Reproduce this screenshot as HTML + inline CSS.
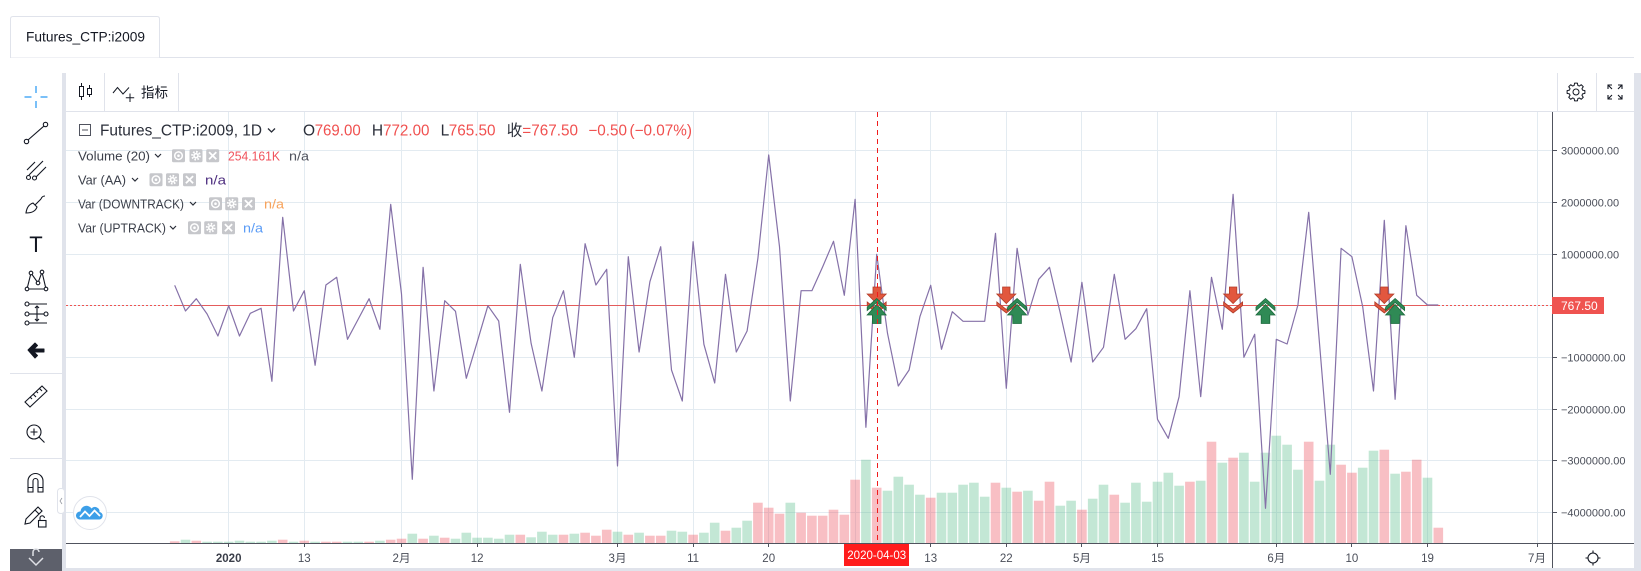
<!DOCTYPE html>
<html><head><meta charset="utf-8">
<style>
html,body{margin:0;padding:0;background:#fff;width:1641px;height:571px;overflow:hidden;}
svg{display:block;}
text{font-family:"Liberation Sans","Noto Sans CJK SC",sans-serif;}
</style></head><body>
<svg width="1641" height="571" viewBox="0 0 1641 571" xmlns="http://www.w3.org/2000/svg">
<defs>
  <g id="eye"><rect x="-6.5" y="-6.5" width="13" height="13" rx="1.5" fill="#c6c7cb"/><circle r="3.8" fill="none" stroke="#fff" stroke-width="1.5"/><circle r="1.3" fill="#fff"/></g>
  <g id="gear"><rect x="-6.5" y="-6.5" width="13" height="13" rx="1.5" fill="#c6c7cb"/><circle r="3.9" fill="none" stroke="#fff" stroke-width="2" stroke-dasharray="1.6 1.45"/><circle r="2.8" fill="#fff"/><circle r="1.2" fill="#c6c7cb"/></g>
  <g id="xx"><rect x="-6.5" y="-6.5" width="13" height="13" rx="1.5" fill="#c6c7cb"/><path d="M-3.6 -3.6 L3.6 3.6 M3.6 -3.6 L-3.6 3.6" stroke="#fff" stroke-width="1.8"/></g>
  <path id="dn" d="M-3.7 287 H3.7 V294 H9.5 L0 303.5 L-9.5 294 H-3.7 Z M-9.5 302 L0 309.5 L9.5 302 L9.5 305.5 L0 313 L-9.5 305.5 Z" fill="#e2573e" stroke="#b23d2a" stroke-width="0.8"/>
  <path id="up" d="M-9.5 307 L0 298.5 L9.5 307 L9.5 310.5 L0 302.5 L-9.5 310.5 Z M0 304.5 L9.5 315 H4.3 V323.5 H-4.3 V315 H-9.5 Z" fill="#2f8a55" stroke="#1d6a3e" stroke-width="0.8"/>
</defs>

<!-- background -->
<rect width="1641" height="571" fill="#fff"/>
<!-- tab -->
<line x1="10" y1="57.5" x2="1634" y2="57.5" stroke="#e0e3eb"/>
<path d="M10.5 57.5 V19 Q10.5 16.5 13 16.5 H157 Q159.5 16.5 159.5 19 V57.5" fill="#fff" stroke="#e0e3eb"/>
<text x="26" y="41.5" font-size="14" fill="#131722" textLength="119" lengthAdjust="spacingAndGlyphs">Futures_CTP:i2009</text>

<!-- frame -->
<rect x="62" y="73" width="4" height="498" fill="#e0e3eb"/>
<rect x="1634" y="73" width="7" height="498" fill="#e0e3eb"/>
<rect x="62" y="568" width="1579" height="3" fill="#e0e3eb"/>

<!-- top toolbar -->
<line x1="66" y1="111.5" x2="1634" y2="111.5" stroke="#e0e3eb"/>
<line x1="104.5" y1="73" x2="104.5" y2="111" stroke="#e0e3eb"/>
<line x1="178.5" y1="73" x2="178.5" y2="111" stroke="#e0e3eb"/>
<line x1="1557.5" y1="73" x2="1557.5" y2="111" stroke="#e0e3eb"/>
<line x1="1596.5" y1="73" x2="1596.5" y2="111" stroke="#e0e3eb"/>
<g stroke="#131722" fill="none" stroke-width="1">
  <line x1="81.5" y1="83" x2="81.5" y2="100"/><rect x="79.5" y="86.5" width="4" height="10" fill="#fff"/>
  <line x1="89.5" y1="85" x2="89.5" y2="97"/><rect x="87.5" y="88.5" width="4" height="6" fill="#fff"/>
  <path d="M113 93 L117.5 87.5 L123 94 L129 87.5"/>
  <path d="M130 93.5 V102 M125.8 97.8 H134.2"/>
</g>
<text x="141" y="97.5" font-size="14" fill="#131722" textLength="27" lengthAdjust="spacingAndGlyphs">指标</text>
<g transform="translate(1576,92)" fill="none" stroke="#131722" stroke-width="1" stroke-linejoin="round">
  <polygon points="6.53,-1.88 8.89,-1.40 8.89,1.40 6.53,1.88 5.95,3.30 7.28,5.29 5.29,7.28 3.30,5.95 1.88,6.53 1.40,8.89 -1.40,8.89 -1.88,6.53 -3.30,5.95 -5.29,7.28 -7.28,5.29 -5.95,3.30 -6.53,1.88 -8.89,1.40 -8.89,-1.40 -6.53,-1.88 -5.95,-3.30 -7.28,-5.29 -5.29,-7.28 -3.30,-5.95 -1.88,-6.53 -1.40,-8.89 1.40,-8.89 1.88,-6.53 3.30,-5.95 5.29,-7.28 7.28,-5.29 5.95,-3.30"/>
  <circle r="3"/>
</g>
<g stroke="#131722" fill="none" stroke-width="1.1">
  <path d="M1608 89 V85 H1612 M1608 85 L1612 89"/>
  <path d="M1618 85 H1622 V89 M1622 85 L1618 89"/>
  <path d="M1608 95 V99 H1612 M1608 99 L1612 95"/>
  <path d="M1618 99 H1622 V95 M1622 99 L1618 95"/>
</g>

<!-- left toolbar -->
<g stroke="#2196f3" stroke-width="1.2">
  <line x1="36" y1="86" x2="36" y2="93"/><line x1="36" y1="101" x2="36" y2="108"/>
  <line x1="24.5" y1="97" x2="31.5" y2="97"/><line x1="40.5" y1="97" x2="47.5" y2="97"/>
</g>
<g stroke="#131722" fill="none" stroke-width="1.1">
  <line x1="28" y1="140" x2="44" y2="126"/><circle cx="26.5" cy="141.5" r="2.2"/><circle cx="45.5" cy="124.5" r="2.2"/>
  <path d="M27 170 L35 162 M29 175 L43 161 M36 177 L46 167"/><circle cx="28.5" cy="177.5" r="2"/><circle cx="34.5" cy="178" r="2"/>
  <path d="M26 213 Q27 205 33 203 L37 207 Q35 213 26 213 Z M35 205 L41 199 M41 199 Q42 196 45 196"/>
  <path d="M27 289 L31 273 L38 283 L42 272 L46 289 M27 289 L46 289"/>
  <circle cx="27" cy="289" r="1.8" fill="#fff"/><circle cx="31" cy="273" r="1.8" fill="#fff"/><circle cx="38" cy="283" r="1.8" fill="#fff"/><circle cx="42" cy="272" r="1.8" fill="#fff"/><circle cx="46" cy="289" r="1.8" fill="#fff"/>
  <circle cx="27" cy="304" r="2"/><line x1="29" y1="304" x2="47" y2="304"/>
  <circle cx="27" cy="314" r="2"/><line x1="29" y1="314" x2="44" y2="314"/><circle cx="46" cy="314" r="2"/>
  <circle cx="27" cy="323" r="2"/><line x1="29" y1="323" x2="47" y2="323"/>
  <path d="M37 306 V321 M35 308 L37 306 L39 308 M35 319 L37 321 L39 319"/>
  <path d="M25 402 L42 386 L47 391 L30 407 Z M30 397 L32 399 M33 394 L36 397 M36 391 L38 393 M39 388 L42 391"/>
  <circle cx="34" cy="432" r="7"/><line x1="39" y1="437" x2="44.5" y2="442.5"/><path d="M34 428.5 V435.5 M30.5 432 H37.5"/>
  <path d="M28 492 V481 A7.5 7.5 0 0 1 43 481 V492 H38 V481 A2.5 2.5 0 0 0 33 481 V492 Z M28 487.5 H33 M38 487.5 H43"/>
  <path d="M26 519 L38 507 L42 511 L30 523 L25 524 Z M35 510 L39 514"/>
  <rect x="38.5" y="520.5" width="7.5" height="6.5"/><path d="M40 520.5 V518 A2.2 2.2 0 0 1 44.4 518"/>
</g>
<text x="36" y="252" text-anchor="middle" font-family="Liberation Serif, serif" font-size="22" fill="#131722">T</text>
<polygon points="28,350 35,343 37.5,345.5 34,349 44,349 44,352 34,352 37.5,355.5 35,358" fill="#131722" stroke="#131722" stroke-width="1" stroke-linejoin="round"/>
<line x1="10" y1="373.5" x2="62" y2="373.5" stroke="#e0e3eb"/>
<line x1="10" y1="458.5" x2="62" y2="458.5" stroke="#e0e3eb"/>
<rect x="10" y="549" width="52" height="22" fill="#5d606b"/>
<path d="M29 558 L36 565 L43 558 M33 556 V552 A3 3 0 0 1 39 552" stroke="#dfe1e6" stroke-width="1.5" fill="none"/>
<rect x="57.5" y="488.5" width="7" height="25" rx="3" fill="#fff" stroke="#e0e3eb"/>
<path d="M62 498 L60 501 L62 504" stroke="#9598a1" fill="none" stroke-width="0.8"/>

<!-- grid -->
<g stroke="#e3ebf1" stroke-width="1">
  <line x1="228.5" y1="112" x2="228.5" y2="543"/><line x1="304.5" y1="112" x2="304.5" y2="543"/>
  <line x1="401.5" y1="112" x2="401.5" y2="543"/><line x1="477.5" y1="112" x2="477.5" y2="543"/>
  <line x1="617.5" y1="112" x2="617.5" y2="543"/><line x1="693.5" y1="112" x2="693.5" y2="543"/>
  <line x1="768.5" y1="112" x2="768.5" y2="543"/><line x1="855.5" y1="112" x2="855.5" y2="543"/>
  <line x1="930.5" y1="112" x2="930.5" y2="543"/><line x1="1006.5" y1="112" x2="1006.5" y2="543"/>
  <line x1="1081.5" y1="112" x2="1081.5" y2="543"/><line x1="1157.5" y1="112" x2="1157.5" y2="543"/>
  <line x1="1276.5" y1="112" x2="1276.5" y2="543"/><line x1="1351.5" y1="112" x2="1351.5" y2="543"/>
  <line x1="1427.5" y1="112" x2="1427.5" y2="543"/><line x1="1537.5" y1="112" x2="1537.5" y2="543"/>
  <line x1="66" y1="150.5" x2="1552" y2="150.5"/><line x1="66" y1="202.5" x2="1552" y2="202.5"/>
  <line x1="66" y1="254.5" x2="1552" y2="254.5"/><line x1="66" y1="305.5" x2="1552" y2="305.5"/>
  <line x1="66" y1="357.5" x2="1552" y2="357.5"/><line x1="66" y1="409.5" x2="1552" y2="409.5"/>
  <line x1="66" y1="460.5" x2="1552" y2="460.5"/><line x1="66" y1="512.5" x2="1552" y2="512.5"/>
</g>

<!-- volume bars pink -->
<g fill="#eb4d5c" fill-opacity="0.36">
<rect x="169.9" y="541.3" width="9.6" height="1.7"/><rect x="191.5" y="540.7" width="9.6" height="2.3"/>
<rect x="277.9" y="539.7" width="9.6" height="3.3"/><rect x="299.5" y="540.7" width="9.6" height="2.3"/>
<rect x="321.1" y="541.7" width="9.6" height="1.3"/><rect x="331.9" y="541.7" width="9.6" height="1.3"/>
<rect x="364.3" y="541.7" width="9.6" height="1.3"/><rect x="385.9" y="539.7" width="9.6" height="3.3"/>
<rect x="396.7" y="538.7" width="9.6" height="4.3"/><rect x="418.3" y="538.7" width="9.6" height="4.3"/>
<rect x="439.9" y="537.7" width="9.6" height="5.3"/><rect x="515.5" y="534.7" width="9.6" height="8.3"/>
<rect x="558.7" y="534.7" width="9.6" height="8.3"/><rect x="580.3" y="532.7" width="9.6" height="10.3"/>
<rect x="591.1" y="535.7" width="9.6" height="7.3"/><rect x="601.9" y="529.7" width="9.6" height="13.3"/>
<rect x="623.5" y="534.7" width="9.6" height="8.3"/><rect x="645.1" y="535.7" width="9.6" height="7.3"/>
<rect x="655.9" y="535.7" width="9.6" height="7.3"/><rect x="688.3" y="534.7" width="9.6" height="8.3"/>
<rect x="720.7" y="530.7" width="9.6" height="12.3"/><rect x="753.1" y="502.7" width="9.6" height="40.3"/>
<rect x="763.9" y="507.7" width="9.6" height="35.3"/><rect x="774.7" y="513.7" width="9.6" height="29.3"/>
<rect x="796.3" y="512.7" width="9.6" height="30.3"/><rect x="807.1" y="515.7" width="9.6" height="27.3"/>
<rect x="817.9" y="515.7" width="9.6" height="27.3"/><rect x="828.7" y="509.7" width="9.6" height="33.3"/>
<rect x="839.5" y="514.7" width="9.6" height="28.3"/><rect x="850.3" y="479.7" width="9.6" height="63.3"/>
<rect x="871.9" y="487.7" width="9.6" height="55.3"/><rect x="925.9" y="497.7" width="9.6" height="45.3"/>
<rect x="990.7" y="482.7" width="9.6" height="60.3"/><rect x="1012.3" y="491.7" width="9.6" height="51.3"/>
<rect x="1033.9" y="500.7" width="9.6" height="42.3"/><rect x="1044.7" y="481.7" width="9.6" height="61.3"/>
<rect x="1077.1" y="509.7" width="9.6" height="33.3"/><rect x="1109.5" y="494.7" width="9.6" height="48.3"/>
<rect x="1185.1" y="481.7" width="9.6" height="61.3"/><rect x="1206.7" y="441.7" width="9.6" height="101.3"/>
<rect x="1228.3" y="457.7" width="9.6" height="85.3"/><rect x="1303.9" y="441.7" width="9.6" height="101.3"/>
<rect x="1336.3" y="464.7" width="9.6" height="78.3"/><rect x="1347.1" y="472.7" width="9.6" height="70.3"/>
<rect x="1379.5" y="449.7" width="9.6" height="93.3"/><rect x="1401.1" y="471.7" width="9.6" height="71.3"/>
<rect x="1411.9" y="459.7" width="9.6" height="83.3"/><rect x="1433.5" y="527.7" width="9.6" height="15.3"/>
</g>
<!-- volume bars green -->
<g fill="#53b987" fill-opacity="0.35">
<rect x="180.7" y="539.7" width="9.6" height="3.3"/><rect x="202.3" y="541.7" width="9.6" height="1.3"/>
<rect x="213.1" y="541.7" width="9.6" height="1.3"/><rect x="223.9" y="541.7" width="9.6" height="1.3"/>
<rect x="234.7" y="540.7" width="9.6" height="2.3"/><rect x="245.5" y="541.7" width="9.6" height="1.3"/>
<rect x="256.3" y="541.7" width="9.6" height="1.3"/><rect x="267.1" y="540.7" width="9.6" height="2.3"/>
<rect x="288.7" y="541.7" width="9.6" height="1.3"/><rect x="310.3" y="541.7" width="9.6" height="1.3"/>
<rect x="342.7" y="541.7" width="9.6" height="1.3"/><rect x="353.5" y="541.7" width="9.6" height="1.3"/>
<rect x="375.1" y="540.7" width="9.6" height="2.3"/><rect x="407.5" y="533.7" width="9.6" height="9.3"/>
<rect x="429.1" y="535.7" width="9.6" height="7.3"/><rect x="450.7" y="538.7" width="9.6" height="4.3"/>
<rect x="461.5" y="532.7" width="9.6" height="10.3"/><rect x="472.3" y="537.7" width="9.6" height="5.3"/>
<rect x="483.1" y="537.7" width="9.6" height="5.3"/><rect x="493.9" y="538.7" width="9.6" height="4.3"/>
<rect x="504.7" y="534.7" width="9.6" height="8.3"/><rect x="526.3" y="537.3" width="9.6" height="5.7"/>
<rect x="537.1" y="531.7" width="9.6" height="11.3"/><rect x="547.9" y="534.7" width="9.6" height="8.3"/>
<rect x="569.5" y="533.7" width="9.6" height="9.3"/><rect x="612.7" y="531.7" width="9.6" height="11.3"/>
<rect x="634.3" y="532.7" width="9.6" height="10.3"/><rect x="666.7" y="530.7" width="9.6" height="12.3"/>
<rect x="677.5" y="531.7" width="9.6" height="11.3"/><rect x="699.1" y="532.7" width="9.6" height="10.3"/>
<rect x="709.9" y="522.7" width="9.6" height="20.3"/><rect x="731.5" y="527.7" width="9.6" height="15.3"/>
<rect x="742.3" y="520.7" width="9.6" height="22.3"/><rect x="785.5" y="502.7" width="9.6" height="40.3"/>
<rect x="861.1" y="459.7" width="9.6" height="83.3"/><rect x="882.7" y="490.7" width="9.6" height="52.3"/>
<rect x="893.5" y="476.7" width="9.6" height="66.3"/><rect x="904.3" y="484.7" width="9.6" height="58.3"/>
<rect x="915.1" y="494.7" width="9.6" height="48.3"/><rect x="936.7" y="492.7" width="9.6" height="50.3"/>
<rect x="947.5" y="492.7" width="9.6" height="50.3"/><rect x="958.3" y="484.7" width="9.6" height="58.3"/>
<rect x="969.1" y="482.7" width="9.6" height="60.3"/><rect x="979.9" y="496.7" width="9.6" height="46.3"/>
<rect x="1001.5" y="487.7" width="9.6" height="55.3"/><rect x="1023.1" y="490.7" width="9.6" height="52.3"/>
<rect x="1055.5" y="505.7" width="9.6" height="37.3"/><rect x="1066.3" y="500.7" width="9.6" height="42.3"/>
<rect x="1087.9" y="498.7" width="9.6" height="44.3"/><rect x="1098.7" y="484.7" width="9.6" height="58.3"/>
<rect x="1120.3" y="502.7" width="9.6" height="40.3"/><rect x="1131.1" y="482.7" width="9.6" height="60.3"/>
<rect x="1141.9" y="501.7" width="9.6" height="41.3"/><rect x="1152.7" y="481.7" width="9.6" height="61.3"/>
<rect x="1163.5" y="472.7" width="9.6" height="70.3"/><rect x="1174.3" y="485.7" width="9.6" height="57.3"/>
<rect x="1195.9" y="480.7" width="9.6" height="62.3"/><rect x="1217.5" y="462.7" width="9.6" height="80.3"/>
<rect x="1239.1" y="452.7" width="9.6" height="90.3"/><rect x="1249.9" y="481.7" width="9.6" height="61.3"/>
<rect x="1260.7" y="452.7" width="9.6" height="90.3"/><rect x="1271.5" y="435.7" width="9.6" height="107.3"/>
<rect x="1282.3" y="444.7" width="9.6" height="98.3"/><rect x="1293.1" y="469.7" width="9.6" height="73.3"/>
<rect x="1314.7" y="480.7" width="9.6" height="62.3"/><rect x="1325.5" y="444.7" width="9.6" height="98.3"/>
<rect x="1357.9" y="467.7" width="9.6" height="75.3"/><rect x="1368.7" y="450.7" width="9.6" height="92.3"/>
<rect x="1390.3" y="473.7" width="9.6" height="69.3"/><rect x="1422.7" y="477.7" width="9.6" height="65.3"/>
</g>

<!-- zero / price lines -->
<line x1="66" y1="305.5" x2="1552" y2="305.5" stroke="#ef5350" stroke-dasharray="2 2"/>
<line x1="174.7" y1="305.5" x2="1438.3" y2="305.5" stroke="#e45c5c" stroke-width="1"/>

<!-- AA line -->
<polyline fill="none" stroke="#8571a8" stroke-width="1.2" stroke-linejoin="round" points="174.7,285.3 185.5,311 196.3,298.7 207.1,314 217.9,336 228.7,305.7 239.5,336 250.3,313.3 261.1,308.3 271.9,381.3 282.7,217.3 293.5,311 304.3,290.7 315.1,365.3 325.9,285 336.7,277.3 347.5,339.3 358.3,319 369.1,298.7 379.9,329.3 390.7,204.3 401.5,294 412.3,479.3 423.1,267.3 433.9,391 444.7,300.7 455.5,311.3 466.3,378.3 477.1,342.3 487.9,305.7 498.7,321 509.5,412.3 520.3,264.3 531.1,343.3 541.9,391 552.7,317.7 563.5,290.7 574.3,357.3 585.1,243.7 595.9,285 606.7,269.3 617.5,466 628.3,256.7 639.1,352 649.9,281.7 660.7,246.7 671.5,370 682.3,401 693.1,241.7 703.9,344.3 714.7,383 725.5,274.3 736.3,352 747.1,331 757.9,258.3 768.7,155 779.5,246.7 790.3,401 801.1,290.7 811.9,290.7 822.7,266.7 833.5,241.3 844.3,295.3 855.1,199.3 865.9,427.3 876.7,254.3 887.5,333.3 898.3,386 909.1,370 919.9,316.7 930.7,285.3 941.5,349.3 952.3,311.7 963.1,321.3 973.9,321.3 984.7,321.3 995.5,233.3 1006.3,388.3 1017.1,248.3 1027.9,315 1038.7,279.3 1049.5,267.3 1060.3,313.3 1071.1,362 1081.9,282.3 1092.7,362 1103.5,347.3 1114.3,274.3 1125.1,339.3 1135.9,328.7 1146.7,308.7 1157.5,419.3 1168.3,438.3 1179.1,396.7 1189.9,290.7 1200.7,396.7 1211.5,277.3 1222.3,329.3 1233.1,194.3 1243.9,357.3 1254.7,334.3 1265.5,508.3 1276.3,339.3 1287.1,344 1297.9,305 1308.7,212.3 1319.5,343.3 1330.3,474.3 1341.1,248.3 1351.9,256.7 1362.7,306.7 1373.5,391 1384.3,220.3 1395.1,399.3 1405.9,225.7 1416.7,295.3 1427.5,305 1438.3,305"/>

<!-- markers -->
<use href="#dn" x="876.7"/>
<use href="#dn" x="1006.3"/>
<use href="#dn" x="1233.1"/>
<use href="#dn" x="1384.3"/>
<use href="#up" x="876.7"/>
<use href="#up" x="1017.1"/>
<use href="#up" x="1265.5"/>
<use href="#up" x="1395.1"/>

<!-- crosshair -->
<line x1="877.5" y1="112" x2="877.5" y2="543" stroke="#f01c1c" stroke-dasharray="5 4"/>

<!-- axes -->
<line x1="66" y1="543.5" x2="1634" y2="543.5" stroke="#50535e"/>
<line x1="1552.5" y1="112" x2="1552.5" y2="568" stroke="#50535e"/>
<g stroke="#50535e">
  <line x1="1552" y1="150.5" x2="1557" y2="150.5"/><line x1="1552" y1="202.5" x2="1557" y2="202.5"/>
  <line x1="1552" y1="254.5" x2="1557" y2="254.5"/><line x1="1552" y1="357.5" x2="1557" y2="357.5"/>
  <line x1="1552" y1="409.5" x2="1557" y2="409.5"/><line x1="1552" y1="460.5" x2="1557" y2="460.5"/>
  <line x1="1552" y1="512.5" x2="1557" y2="512.5"/>
  <line x1="228.5" y1="543" x2="228.5" y2="547"/><line x1="304.5" y1="543" x2="304.5" y2="547"/>
  <line x1="401.5" y1="543" x2="401.5" y2="547"/><line x1="477.5" y1="543" x2="477.5" y2="547"/>
  <line x1="617.5" y1="543" x2="617.5" y2="547"/><line x1="693.5" y1="543" x2="693.5" y2="547"/>
  <line x1="768.5" y1="543" x2="768.5" y2="547"/><line x1="930.5" y1="543" x2="930.5" y2="547"/>
  <line x1="1006.5" y1="543" x2="1006.5" y2="547"/><line x1="1081.5" y1="543" x2="1081.5" y2="547"/>
  <line x1="1157.5" y1="543" x2="1157.5" y2="547"/><line x1="1276.5" y1="543" x2="1276.5" y2="547"/>
  <line x1="1351.5" y1="543" x2="1351.5" y2="547"/><line x1="1427.5" y1="543" x2="1427.5" y2="547"/>
  <line x1="1537.5" y1="543" x2="1537.5" y2="547"/>
</g>
<g font-size="11" fill="#4a4e59">
  <text x="1561" y="154.5">3000000.00</text>
  <text x="1561" y="206.5">2000000.00</text>
  <text x="1561" y="258.5">1000000.00</text>
  <text x="1561" y="361.5">−1000000.00</text>
  <text x="1561" y="413.5">−2000000.00</text>
  <text x="1561" y="464.5">−3000000.00</text>
  <text x="1561" y="516.5">−4000000.00</text>
</g>
<g font-size="11.5" fill="#4a4e59" text-anchor="middle">
  <text x="228.7" y="562" font-weight="bold" fill="#3b3f4a">2020</text>
  <text x="304.3" y="562">13</text>
  <text x="401.5" y="562">2月</text>
  <text x="477.1" y="562">12</text>
  <text x="617.5" y="562">3月</text>
  <text x="693.1" y="562">11</text>
  <text x="768.7" y="562">20</text>
  <text x="930.7" y="562">13</text>
  <text x="1006.3" y="562">22</text>
  <text x="1081.9" y="562">5月</text>
  <text x="1157.5" y="562">15</text>
  <text x="1276.3" y="562">6月</text>
  <text x="1351.9" y="562">10</text>
  <text x="1427.5" y="562">19</text>
  <text x="1537" y="562">7月</text>
</g>
<!-- price label -->
<rect x="1552" y="297" width="52" height="17" fill="#ef5350"/>
<text x="1561" y="310" font-size="12" fill="#fff">767.50</text>
<!-- time crosshair label -->
<rect x="844" y="544" width="65" height="22" fill="#ff1c1c"/>
<text x="876.7" y="559" font-size="11.5" fill="#fff" text-anchor="middle">2020-04-03</text>
<!-- bottom right settings -->
<g transform="translate(1593,558)" stroke="#131722" fill="none" stroke-width="1.1">
  <circle r="5"/><path d="M0 -7.5 V-5 M0 5 V7.5 M-7.5 0 H-5 M5 0 H7.5"/>
</g>

<!-- legend -->
<rect x="79.5" y="124.5" width="11" height="11" fill="none" stroke="#50535e"/>
<line x1="82" y1="130" x2="88" y2="130" stroke="#50535e"/>
<g font-size="15.5">
  <text x="100" y="135.5" fill="#2a2e39" textLength="162" lengthAdjust="spacingAndGlyphs">Futures_CTP:i2009, 1D</text>
  <text x="303" y="135.5" fill="#2a2e39">O</text>
  <text x="314.7" y="135.5" fill="#f0504f" textLength="46" lengthAdjust="spacingAndGlyphs">769.00</text>
  <text x="371.9" y="135.5" fill="#2a2e39">H</text>
  <text x="383" y="135.5" fill="#f0504f" textLength="46.5" lengthAdjust="spacingAndGlyphs">772.00</text>
  <text x="440.6" y="135.5" fill="#2a2e39">L</text>
  <text x="448.7" y="135.5" fill="#f0504f" textLength="46.8" lengthAdjust="spacingAndGlyphs">765.50</text>
  <text x="506.7" y="135.5" fill="#2a2e39">收</text>
  <text x="522.3" y="135.5" fill="#f0504f" textLength="55.7" lengthAdjust="spacingAndGlyphs">=767.50</text>
  <text x="588.4" y="135.5" fill="#f0504f" textLength="38.6" lengthAdjust="spacingAndGlyphs">−0.50</text>
  <text x="629.5" y="135.5" fill="#f0504f" textLength="62.5" lengthAdjust="spacingAndGlyphs">(−0.07%)</text>
</g>
<path d="M268 128.5 L271.5 132 L275 128.5" stroke="#2a2e39" stroke-width="1.3" fill="none"/>
<g font-size="13" fill="#3b3f4a">
  <text x="78" y="160.3" textLength="72" lengthAdjust="spacingAndGlyphs">Volume (20)</text>
  <text x="78" y="184.3" textLength="48" lengthAdjust="spacingAndGlyphs">Var (AA)</text>
  <text x="78" y="208.3" textLength="106" lengthAdjust="spacingAndGlyphs">Var (DOWNTRACK)</text>
  <text x="78" y="232.3" textLength="88" lengthAdjust="spacingAndGlyphs">Var (UPTRACK)</text>
</g>
<g stroke="#2a2e39" stroke-width="1.2" fill="none">
  <path d="M155 154 L158 157 L161 154"/>
  <path d="M132 178 L135 181 L138 178"/>
  <path d="M190 202 L193 205 L196 202"/>
  <path d="M170 226 L173 229 L176 226"/>
</g>
<use href="#eye" x="178.5" y="155.7"/><use href="#gear" x="196" y="155.7"/><use href="#xx" x="212.7" y="155.7"/>
<use href="#eye" x="156" y="179.7"/><use href="#gear" x="172.5" y="179.7"/><use href="#xx" x="189.5" y="179.7"/>
<use href="#eye" x="215.5" y="203.7"/><use href="#gear" x="231.7" y="203.7"/><use href="#xx" x="248.5" y="203.7"/>
<use href="#eye" x="194.5" y="227.7"/><use href="#gear" x="210.7" y="227.7"/><use href="#xx" x="228.5" y="227.7"/>
<g font-size="13">
  <text x="228" y="160.3" fill="#f0525c" textLength="52" lengthAdjust="spacingAndGlyphs">254.161K</text>
  <text x="289" y="160.3" fill="#50535e" textLength="20" lengthAdjust="spacingAndGlyphs">n/a</text>
  <text x="205" y="184.3" fill="#4e2f80" textLength="21" lengthAdjust="spacingAndGlyphs">n/a</text>
  <text x="264" y="208.3" fill="#f7a35c" textLength="20" lengthAdjust="spacingAndGlyphs">n/a</text>
  <text x="243" y="232.3" fill="#5b9cf6" textLength="20" lengthAdjust="spacingAndGlyphs">n/a</text>
</g>

<!-- logo -->
<circle cx="90" cy="513" r="16.5" fill="#fff" stroke="#e0e3eb"/>
<path d="M79.5 519.5 A4 4 0 0 1 80.5 511.5 A6 6 0 0 1 91.5 508.5 A4.6 4.6 0 0 1 99.5 512 A3.8 3.8 0 0 1 99.5 519.5 Z" fill="#3d9fe8"/>
<path d="M80 517 L85 511.5 L89.5 516 L94.5 510.5 L100 516" stroke="#fff" stroke-width="1.8" fill="none"/>
</svg>
</body></html>
